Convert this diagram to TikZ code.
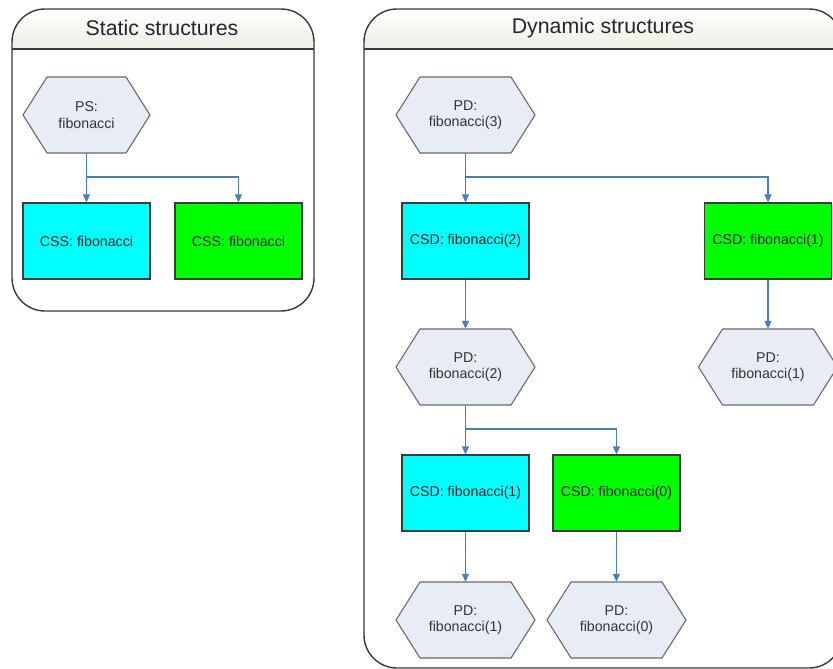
\documentclass[tikz,border=0pt]{standalone}
\usepackage{fontspec}
\setmainfont{Liberation Sans}
\usetikzlibrary{arrows.meta}
\definecolor{arrowblue}{HTML}{4A7EBB}
\definecolor{hexfill}{HTML}{E8ECF5}
\definecolor{hexline}{HTML}{6A6A6A}
\definecolor{boxline}{HTML}{3C3C3C}
\definecolor{panelline}{HTML}{3A3A3A}
\definecolor{headfill}{HTML}{EEEEE6}
\definecolor{txtgray}{HTML}{333333}
\definecolor{cssgreen}{HTML}{00FF00}
\definecolor{csscyan}{HTML}{00FFFF}
\tikzset{
  hexsty/.style={fill=hexfill, draw=hexline, line width=1.1pt, line join=miter},
  hextxt/.style={rectangle, minimum height=76pt, inner sep=0pt, align=center,
    text=txtgray, font=\fontsize{14.2}{16.8}\selectfont},
  cyanbox/.style={rectangle, draw=boxline, fill=csscyan, line width=1.1pt,
    minimum width=127pt, minimum height=76pt, inner sep=0pt,
    text=black!85, font=\fontsize{14.2}{16.8}\selectfont},
  greenbox/.style={cyanbox, fill=cssgreen},
  conn/.style={draw=arrowblue, line width=1.2pt, -{Triangle[length=8pt,width=7pt]}},
  panel/.style={draw=panelline, line width=1.4pt, rounded corners=33pt},
  titletxt/.style={text=black!85, font=\fontsize{21.3}{25}\selectfont}
}
% name, x, y, half width, text
\newcommand\myhex[5]{%
  \filldraw[hexsty] (#2-#4,#3) -- (#2-#4+24,#3-38) -- (#2+#4-24,#3-38)
    -- (#2+#4,#3) -- (#2+#4-24,#3+38) -- (#2-#4+24,#3+38) -- cycle;
  \node[hextxt, minimum width=2*#4] (#1) at (#2,#3) {#5};}
\begin{document}
\begin{tikzpicture}[x=1pt,y=-1pt]
\useasboundingbox (0,0) rectangle (833,669);
\clip (0,0) rectangle (833,669);
\fill[white] (0,0) rectangle (833,669);
% left panel
\begin{scope}
  \clip[rounded corners=33pt] (12,9) rectangle (314,311);
  \shade[top color=white, bottom color=headfill] (12,9) rectangle (314,49);
\end{scope}
\draw[panel] (12,9) rectangle (314,311);
\draw[draw=panelline, line width=1.4pt] (12,49) coordinate (lh1) -- (314,49) coordinate (lh2);
\node[titletxt] (t1) at (162,28) {Static structures};
% right panel
\begin{scope}
  \clip[rounded corners=33pt] (364,9) rectangle (842,668);
  \shade[top color=white, bottom color=headfill] (364,9) rectangle (842,49);
\end{scope}
\draw[panel] (364,9) rectangle (842,668);
\draw[draw=panelline, line width=1.4pt] (364,49) coordinate (rh1) -- (842,49) coordinate (rh2);
\node[titletxt] (t2) at (603,28) {Dynamic structures};
% static nodes
\myhex{ps}{86.5}{115}{63.5}{PS:\\fibonacci}
\node[cyanbox] (css1) at (86.5,241) {CSS: fibonacci};
\node[greenbox] (css2) at (238.5,241) {CSS: fibonacci};
\coordinate (j1) at (86.5,177);
\draw[conn] (ps.south) -- (css1.north);
\draw[conn] (ps.south) -- (j1) -| (css2.north);
% dynamic nodes
\myhex{pd3}{465.5}{115}{69.5}{PD:\\fibonacci(3)}
\node[cyanbox] (csd2) at (465.5,241) {CSD: fibonacci(2)};
\node[greenbox] (csd1g) at (768,241) {CSD: fibonacci(1)};
\coordinate (j2) at (465.5,177);
\draw[conn] (pd3.south) -- (csd2.north);
\draw[conn] (pd3.south) -- (j2) -| (csd1g.north);
\myhex{pd2}{465.5}{367}{69.5}{PD:\\fibonacci(2)}
\myhex{pd1r}{768}{367}{69.5}{PD:\\fibonacci(1)}
\draw[conn] (csd2.south) -- (pd2.north);
\draw[conn] (csd1g.south) -- (pd1r.north);
\node[cyanbox] (csd1c) at (465.5,493) {CSD: fibonacci(1)};
\node[greenbox] (csd0) at (616.5,493) {CSD: fibonacci(0)};
\coordinate (j3) at (465.5,429);
\draw[conn] (pd2.south) -- (csd1c.north);
\draw[conn] (pd2.south) -- (j3) -| (csd0.north);
\myhex{pd1b}{465.5}{620}{69.5}{PD:\\fibonacci(1)}
\myhex{pd0}{616.5}{620}{69.5}{PD:\\fibonacci(0)}
\draw[conn] (csd1c.south) -- (pd1b.north);
\draw[conn] (csd0.south) -- (pd0.north);
\end{tikzpicture}
\end{document}
